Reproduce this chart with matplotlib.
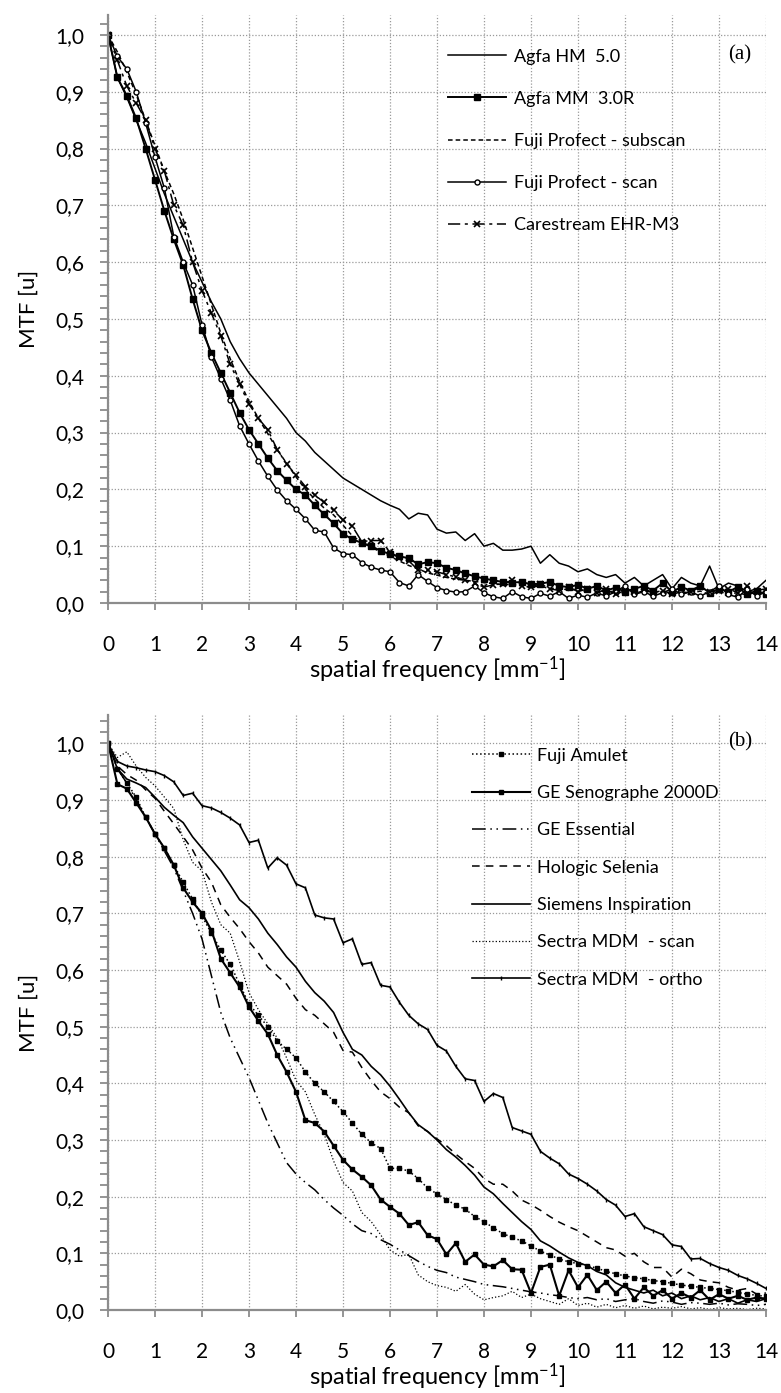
import numpy as np
import matplotlib
matplotlib.use('Agg')
import matplotlib.pyplot as plt
from matplotlib.ticker import MultipleLocator, FuncFormatter

plt.rcParams['font.family'] = ['Lato', 'DejaVu Sans']
plt.rcParams['mathtext.fontset'] = 'custom'
plt.rcParams['mathtext.rm'] = 'Lato'
plt.rcParams['mathtext.default'] = 'regular'

# frecuencias comunes (mm^-1), paso 0.2
freq = np.round(np.arange(0, 14.01, 0.2), 1)

# ---- panel (a) ----
agfa_hm = [1.00, 0.925, 0.89, 0.85, 0.81, 0.765, 0.72, 0.68, 0.64, 0.60, 0.565, 0.53, 0.50, 0.46, 0.43,
           0.405, 0.385, 0.365, 0.345, 0.325, 0.30, 0.285, 0.265, 0.25, 0.235, 0.22, 0.21, 0.20, 0.19, 0.18,
           0.172, 0.165, 0.148, 0.158, 0.155, 0.13, 0.123, 0.125, 0.11, 0.122, 0.10, 0.105, 0.093, 0.093, 0.095,
           0.10, 0.07, 0.085, 0.07, 0.065, 0.055, 0.06, 0.05, 0.045, 0.05, 0.035, 0.045, 0.03, 0.04, 0.05,
           0.025, 0.045, 0.035, 0.03, 0.065, 0.025, 0.035, 0.03, 0.02, 0.025, 0.04]
agfa_mm = [1.00, 0.925, 0.893, 0.853, 0.80, 0.745, 0.69, 0.64, 0.595, 0.535, 0.48, 0.44, 0.405, 0.37, 0.335,
           0.305, 0.28, 0.255, 0.233, 0.216, 0.20, 0.19, 0.172, 0.156, 0.14, 0.122, 0.112, 0.106, 0.10, 0.092,
           0.086, 0.082, 0.079, 0.068, 0.072, 0.07, 0.062, 0.058, 0.052, 0.047, 0.043, 0.04, 0.037, 0.036, 0.037,
           0.033, 0.034, 0.037, 0.03, 0.028, 0.032, 0.025, 0.03, 0.022, 0.027, 0.02, 0.025, 0.03, 0.022, 0.035,
           0.02, 0.028, 0.022, 0.03, 0.018, 0.025, 0.02, 0.028, 0.015, 0.022, 0.015]
fuji_subscan = [1.00, 0.97, 0.935, 0.895, 0.85, 0.805, 0.76, 0.72, 0.675, 0.625, 0.575, 0.525, 0.475, 0.43, 0.39,
                0.355, 0.325, 0.298, 0.27, 0.246, 0.222, 0.20, 0.183, 0.167, 0.155, 0.137, 0.118, 0.107, 0.098, 0.09,
                0.082, 0.074, 0.066, 0.06, 0.053, 0.049, 0.045, 0.042, 0.04, 0.038, 0.036, 0.034, 0.032, 0.033, 0.03,
                0.028, 0.03, 0.025, 0.027, 0.022, 0.025, 0.02, 0.024, 0.018, 0.022, 0.02, 0.016, 0.022, 0.018, 0.02,
                0.015, 0.02, 0.017, 0.021, 0.015, 0.02, 0.016, 0.018, 0.014, 0.02, 0.016]
fuji_scan = [1.00, 0.962, 0.94, 0.90, 0.845, 0.785, 0.73, 0.645, 0.60, 0.56, 0.49, 0.433, 0.395, 0.357, 0.312,
             0.28, 0.25, 0.223, 0.199, 0.18, 0.165, 0.148, 0.128, 0.125, 0.097, 0.087, 0.085, 0.071, 0.063, 0.058,
             0.055, 0.036, 0.03, 0.05, 0.038, 0.027, 0.022, 0.019, 0.02, 0.03, 0.018, 0.011, 0.008, 0.02, 0.011,
             0.008, 0.017, 0.012, 0.02, 0.008, 0.014, 0.01, 0.018, 0.012, 0.02, 0.03, 0.015, 0.02, 0.012, 0.018,
             0.025, 0.015, 0.02, 0.012, 0.02, 0.03, 0.015, 0.01, 0.025, 0.012, 0.02]
carestream = [1.00, 0.955, 0.91, 0.88, 0.85, 0.80, 0.76, 0.70, 0.665, 0.60, 0.55, 0.51, 0.47, 0.42, 0.385,
              0.35, 0.325, 0.305, 0.27, 0.245, 0.225, 0.205, 0.19, 0.177, 0.163, 0.146, 0.135, 0.108, 0.11, 0.11,
              0.09, 0.079, 0.074, 0.058, 0.058, 0.055, 0.05, 0.046, 0.04, 0.035, 0.028, 0.032, 0.034, 0.04, 0.03,
              0.028, 0.034, 0.025, 0.022, 0.028, 0.02, 0.025, 0.018, 0.024, 0.015, 0.022, 0.02, 0.025, 0.018, 0.022,
              0.016, 0.024, 0.02, 0.028, 0.02, 0.022, 0.025, 0.018, 0.03, 0.022, 0.025]

# ---- panel (b) ----
fuji_amulet = [1.00, 0.955, 0.93, 0.905, 0.87, 0.84, 0.815, 0.785, 0.755, 0.725, 0.695, 0.665, 0.635, 0.61, 0.575,
               0.54, 0.52, 0.50, 0.475, 0.46, 0.445, 0.42, 0.40, 0.385, 0.368, 0.35, 0.33, 0.31, 0.295, 0.285,
               0.25, 0.25, 0.245, 0.232, 0.215, 0.205, 0.195, 0.185, 0.178, 0.165, 0.156, 0.145, 0.135, 0.128, 0.122,
               0.113, 0.104, 0.097, 0.09, 0.085, 0.082, 0.078, 0.074, 0.068, 0.064, 0.06, 0.057, 0.055, 0.052, 0.05,
               0.047, 0.044, 0.042, 0.04, 0.038, 0.036, 0.034, 0.031, 0.028, 0.026, 0.024]
ge_senographe = [1.00, 0.928, 0.92, 0.895, 0.87, 0.84, 0.815, 0.785, 0.745, 0.72, 0.70, 0.67, 0.62, 0.595, 0.57,
                 0.535, 0.51, 0.487, 0.45, 0.42, 0.385, 0.335, 0.33, 0.315, 0.29, 0.265, 0.248, 0.235, 0.22, 0.195,
                 0.182, 0.17, 0.15, 0.155, 0.132, 0.125, 0.098, 0.118, 0.085, 0.098, 0.08, 0.077, 0.088, 0.072, 0.071,
                 0.03, 0.076, 0.08, 0.025, 0.07, 0.04, 0.062, 0.035, 0.05, 0.03, 0.045, 0.02, 0.04, 0.025, 0.035,
                 0.02, 0.03, 0.022, 0.035, 0.018, 0.028, 0.02, 0.025, 0.018, 0.022, 0.02]
ge_essential = [1.00, 0.955, 0.93, 0.90, 0.87, 0.84, 0.81, 0.78, 0.74, 0.70, 0.655, 0.59, 0.525, 0.48, 0.445,
                0.41, 0.37, 0.33, 0.295, 0.26, 0.24, 0.225, 0.212, 0.195, 0.18, 0.167, 0.152, 0.14, 0.135, 0.124,
                0.116, 0.106, 0.096, 0.086, 0.077, 0.07, 0.066, 0.058, 0.054, 0.05, 0.045, 0.043, 0.041, 0.038, 0.035,
                0.032, 0.03, 0.027, 0.025, 0.022, 0.02, 0.022, 0.018, 0.02, 0.015, 0.018, 0.02, 0.015, 0.012, 0.016,
                0.014, 0.01, 0.013, 0.012, 0.01, 0.012, 0.009, 0.011, 0.01, 0.008, 0.01]
hologic = [1.00, 0.96, 0.945, 0.935, 0.918, 0.903, 0.88, 0.858, 0.835, 0.812, 0.78, 0.755, 0.715, 0.693, 0.673,
           0.65, 0.63, 0.605, 0.59, 0.575, 0.55, 0.53, 0.52, 0.505, 0.49, 0.458, 0.455, 0.428, 0.405, 0.385,
           0.373, 0.358, 0.348, 0.325, 0.315, 0.302, 0.29, 0.275, 0.262, 0.25, 0.232, 0.222, 0.222, 0.21, 0.194,
           0.186, 0.176, 0.165, 0.155, 0.147, 0.14, 0.13, 0.12, 0.11, 0.106, 0.095, 0.10, 0.085, 0.075, 0.075,
           0.058, 0.072, 0.064, 0.053, 0.05, 0.048, 0.04, 0.035, 0.038, 0.028, 0.03]
siemens = [1.00, 0.955, 0.937, 0.93, 0.922, 0.905, 0.887, 0.873, 0.86, 0.835, 0.815, 0.795, 0.775, 0.75, 0.724,
           0.71, 0.69, 0.665, 0.645, 0.623, 0.605, 0.58, 0.56, 0.545, 0.525, 0.49, 0.46, 0.45, 0.43, 0.415,
           0.395, 0.372, 0.348, 0.327, 0.315, 0.30, 0.283, 0.27, 0.255, 0.238, 0.217, 0.205, 0.188, 0.172, 0.156,
           0.142, 0.122, 0.113, 0.102, 0.092, 0.084, 0.078, 0.068, 0.062, 0.048, 0.04, 0.035, 0.03, 0.035, 0.025,
           0.03, 0.02, 0.025, 0.018, 0.022, 0.015, 0.02, 0.012, 0.018, 0.015, 0.02]
sectra_scan = [1.00, 0.975, 0.985, 0.96, 0.94, 0.925, 0.905, 0.885, 0.83, 0.79, 0.775, 0.72, 0.68, 0.665, 0.615,
               0.56, 0.53, 0.505, 0.48, 0.445, 0.405, 0.385, 0.345, 0.31, 0.263, 0.225, 0.21, 0.172, 0.156, 0.133,
               0.106, 0.095, 0.098, 0.062, 0.05, 0.043, 0.04, 0.033, 0.045, 0.028, 0.018, 0.022, 0.025, 0.033, 0.022,
               0.028, 0.02, 0.015, 0.01, 0.02, 0.008, 0.012, 0.005, 0.01, 0.004, 0.008, 0.003, 0.007, 0.002, 0.005,
               0.003, 0.006, 0.002, 0.004, 0.001, 0.004, 0.002, 0.003, 0.001, 0.003, 0.002]
sectra_ortho = [1.00, 0.968, 0.96, 0.957, 0.953, 0.95, 0.943, 0.932, 0.908, 0.912, 0.89, 0.886, 0.878, 0.868, 0.856,
                0.825, 0.829, 0.78, 0.798, 0.785, 0.752, 0.745, 0.697, 0.692, 0.69, 0.648, 0.655, 0.61, 0.613, 0.573,
                0.57, 0.543, 0.52, 0.505, 0.495, 0.467, 0.457, 0.43, 0.408, 0.405, 0.368, 0.382, 0.375, 0.322, 0.316,
                0.31, 0.28, 0.268, 0.258, 0.24, 0.232, 0.222, 0.21, 0.195, 0.185, 0.165, 0.17, 0.147, 0.14, 0.133,
                0.115, 0.112, 0.09, 0.091, 0.082, 0.075, 0.07, 0.061, 0.055, 0.047, 0.038]

W, H = 781, 1393
fig = plt.figure(figsize=(W / 100, H / 100), dpi=100)
ax_a = fig.add_axes([108 / W, 1 - 603 / H, 658 / W, 588 / H])
ax_b = fig.add_axes([108 / W, 1 - 1310 / H, 658 / W, 595 / H])

k = dict(color='black')
ax_a.plot(freq, agfa_hm, '-', lw=1.1, label='Agfa HM  5.0', **k)
ax_a.plot(freq, agfa_mm, '-', lw=1.4, marker='s', ms=4, label='Agfa MM  3.0R', **k)
ax_a.plot(freq, fuji_subscan, ls=(0, (3, 2)), lw=1.1, label='Fuji Profect - subscan', **k)
ax_a.plot(freq, fuji_scan, '-', lw=1.1, marker='o', ms=3.6, mfc='white', mew=1, label='Fuji Profect - scan', **k)
ax_a.plot(freq, carestream, ls=(0, (8, 3, 2, 3)), lw=1.1, marker='x', ms=5, mew=1.2,
          label='Carestream EHR-M3', **k)

ax_b.plot(freq, fuji_amulet, ':', lw=1.1, marker='s', ms=3, label='Fuji Amulet', **k)
ax_b.plot(freq, ge_senographe, '-', lw=1.5, marker='s', ms=3.5, label='GE Senographe 2000D', **k)
ax_b.plot(freq, ge_essential, ls=(0, (9, 3, 1, 3, 1, 3)), lw=1.1, label='GE Essential', **k)
ax_b.plot(freq, hologic, ls=(0, (5, 4)), lw=1.1, label='Hologic Selenia', **k)
ax_b.plot(freq, siemens, '-', lw=1.2, label='Siemens Inspiration', **k)
ax_b.plot(freq, sectra_scan, ':', lw=0.9, label='Sectra MDM  - scan', **k)
ax_b.plot(freq, sectra_ortho, '-', lw=1.2, marker='|', ms=3.5, label='Sectra MDM  - ortho', **k)

fmt = FuncFormatter(lambda v, p: f'{v:.1f}'.replace('.', ','))
for ax, top in ((ax_a, 1.035), (ax_b, 1.05)):
    ax.set_xlim(0, 14)
    ax.set_ylim(0, top)
    ax.xaxis.set_major_locator(MultipleLocator(1))
    ax.yaxis.set_major_locator(MultipleLocator(0.1))
    ax.yaxis.set_minor_locator(MultipleLocator(0.02))
    ax.yaxis.set_major_formatter(fmt)
    ax.grid(True, which='major', color='#9a9a9a', ls=(0, (1, 1.5)), lw=0.9)
    for s in ('top', 'right'):
        ax.spines[s].set_visible(False)
    for s in ('left', 'bottom'):
        ax.spines[s].set_color('#8c8c8c')
        ax.spines[s].set_linewidth(1.6)
    ax.tick_params(axis='y', which='both', direction='out', length=6, width=1.3, color='#8c8c8c',
                   labelsize=15, pad=11)
    ax.tick_params(axis='x', direction='out', length=5, width=1.3, color='#8c8c8c', labelsize=15, pad=18)
    ax.set_ylabel('MTF [u]', fontsize=16, labelpad=12)
    ax.set_xlabel('spatial frequency [mm$^{-1}$]', fontsize=17, labelpad=0)

ax_a.legend(loc='upper left', bbox_to_anchor=(0.517, 0.943), frameon=False, fontsize=13,
            handlelength=3.2, handletextpad=0.45, labelspacing=1.45, borderpad=0, borderaxespad=0)
ax_b.legend(loc='upper left', bbox_to_anchor=(0.553, 0.945), frameon=False, fontsize=13,
            handlelength=3.2, handletextpad=0.4, labelspacing=1.18, borderpad=0, borderaxespad=0)

ax_a.text(13.45, 0.965, '(a)', family='Liberation Serif', fontsize=15, ha='center', va='center')
ax_b.text(13.45, 1.003, '(b)', family='Liberation Serif', fontsize=15, ha='center', va='center')

fig.savefig('out.png', dpi=100)
